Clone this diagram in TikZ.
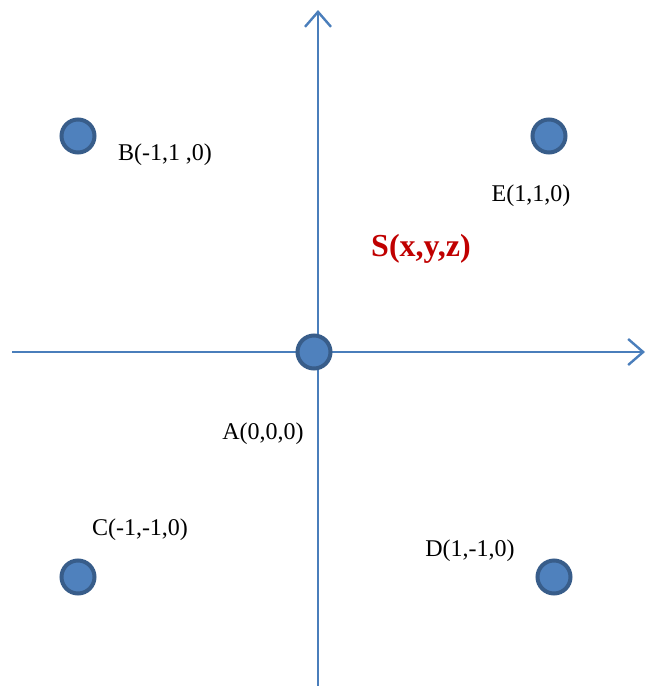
\documentclass[tikz,border=0pt]{standalone}
\usepackage{fontspec}
\setmainfont{Liberation Serif}
\usetikzlibrary{arrows.meta}
\definecolor{axblue}{HTML}{4A7EBB}
\definecolor{ptfill}{HTML}{4F81BD}
\definecolor{ptedge}{HTML}{385D8A}
\definecolor{sred}{HTML}{C00000}
\tikzset{
  ax/.style={line width=2.4pt, color=axblue, -{Straight Barb[length=15pt, width=26pt, line width=2.4pt]}},
  pt/.style={circle, draw=ptedge, fill=ptfill, line width=4pt, minimum size=33pt, inner sep=0pt},
  lbl/.style={font=\fontsize{24}{28}\selectfont, inner sep=0pt},
  sl/.style={font=\fontsize{32}{36}\selectfont\bfseries, text=sred, inner sep=0pt},
}
\begin{document}
\begin{tikzpicture}[x=1pt, y=-1pt]
  \useasboundingbox (0,0) rectangle (646,686);
  % axes
  \coordinate (yb) at (318,686);
  \coordinate (yt) at (318,10);
  \coordinate (xl) at (12,352);
  \coordinate (xr) at (645,352);
  \draw[ax] (yb) -- (yt);
  \draw[ax] (xl) -- (xr);
  % points
  \node[pt] (a) at (314,352) {};
  \node[pt] (b) at (78,136) {};
  \node[pt] (e) at (549,136) {};
  \node[pt] (c) at (78,577) {};
  \node[pt] (d) at (554,577) {};
  % labels
  \node[lbl] (la) at (263,434) {A(0,0,0)};
  \node[lbl] (lb) at (165,155) {B(-1,1 ,0)};
  \node[lbl] (le) at (531,196) {E(1,1,0)};
  \node[lbl] (lc) at (140,530) {C(-1,-1,0)};
  \node[lbl] (ld) at (470,551) {D(1,-1,0)};
  \node[sl] (s) at (421,249) {S(x,y,z)};
\end{tikzpicture}
\end{document}
